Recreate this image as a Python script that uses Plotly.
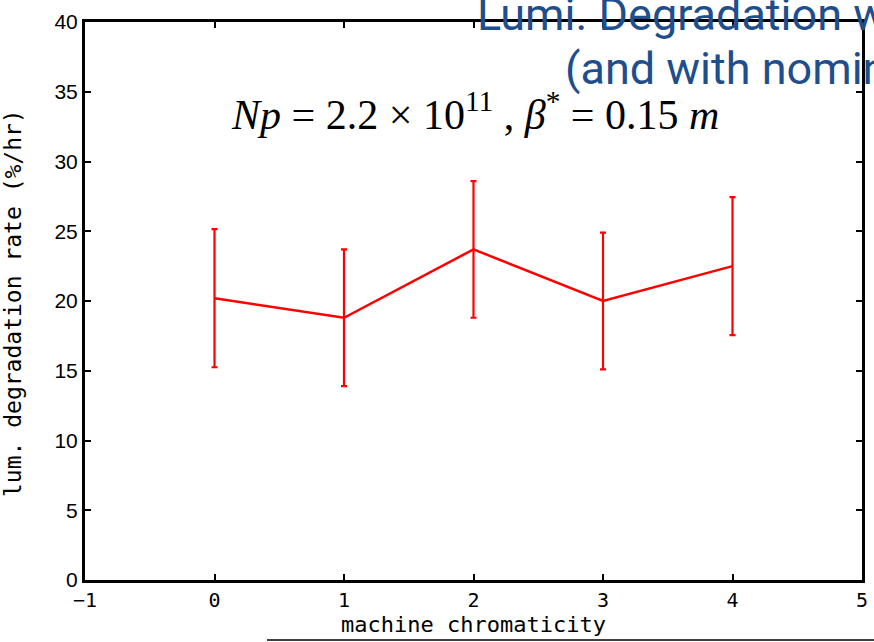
import plotly.graph_objects as go

chromaticity = [0, 1, 2, 3, 4]
degradation_rate = [20.2, 18.8, 23.7, 20.0, 22.5]
rate_error = [4.95, 4.9, 4.9, 4.9, 4.95]

x_ticks = [-1, 0, 1, 2, 3, 4, 5]
y_ticks = [0, 5, 10, 15, 20, 25, 30, 35, 40]

fig = go.Figure()
fig.add_trace(go.Scatter(
    x=chromaticity, y=degradation_rate,
    mode="lines",
    line=dict(color="#ff0000", width=2.5),
    error_y=dict(type="data", array=rate_error, visible=True,
                 color="#ff0000", thickness=2.2, width=3),
    showlegend=False, hoverinfo="skip",
))

mono = "DejaVu Sans Mono"
fig.update_layout(
    template="none",
    width=874, height=642,
    margin=dict(l=85, r=12, t=22, b=62),
    paper_bgcolor="white", plot_bgcolor="white",
    xaxis=dict(range=[-1, 5], tickvals=x_ticks, ticks="inside", ticklen=6,
               tickwidth=2, tickcolor="black", showgrid=False, zeroline=False,
               automargin=False,
               showline=True, linecolor="black", linewidth=3, mirror="allticks",
               tickfont=dict(family=mono, size=20, color="black"),
               title=dict(text="machine chromaticity", standoff=0,
                          font=dict(family=mono, size=22, color="black"))),
    yaxis=dict(range=[0, 40], tickvals=y_ticks, ticks="inside", ticklen=6,
               tickwidth=2, tickcolor="black", showgrid=False, zeroline=False,
               automargin=False,
               showline=True, linecolor="black", linewidth=3, mirror="allticks",
               tickfont=dict(family="Liberation Sans", size=21, color="black")),
)

def py(p):
    return (580 - p) / 558

def px(p):
    return (p - 85) / 777

fig.add_annotation(
    xref="paper", yref="paper", x=px(13), y=py(303),
    xanchor="center", yanchor="middle", showarrow=False, textangle=-90,
    text="lum. degradation rate (%/hr)",
    font=dict(family=mono, size=23, color="black"),
)
fig.add_annotation(
    xref="paper", yref="paper", x=px(229), y=py(111),
    xanchor="left", yanchor="middle", showarrow=False,
    text="<i>Np</i> = 2.2 × 10<sup>11</sup> , <i>β</i><sup>*</sup> = 0.15 <i>m</i>",
    font=dict(family="Liberation Serif", size=42, color="black"),
)
fig.add_annotation(
    xref="paper", yref="paper", x=px(475), y=py(14),
    xanchor="left", yanchor="middle", showarrow=False,
    text="Lumi. Degradation with",
    font=dict(family="Roboto", size=45, color="#1f4e8c"),
)
fig.add_annotation(
    xref="paper", yref="paper", x=px(563), y=py(68),
    xanchor="left", yanchor="middle", showarrow=False,
    text="(and with nominal",
    font=dict(family="Roboto", size=45, color="#1f4e8c"),
)
fig.add_shape(type="line", xref="paper", yref="paper",
              x0=px(267), x1=1.02, y0=py(640), y1=py(640),
              line=dict(color="black", width=1.5))

fig.write_html("out.html", config={"displayModeBar": False},
               post_script="document.body.style.margin='0';")
